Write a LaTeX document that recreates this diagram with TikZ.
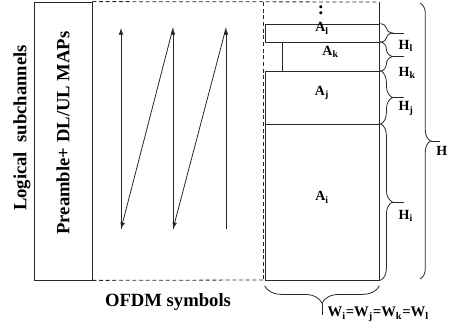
\documentclass[tikz,border=0pt]{standalone}
\usepackage{fontspec}
\setmainfont{Liberation Serif}
\usepackage{tikz}
\usetikzlibrary{arrows.meta,positioning,fit,calc,decorations.pathreplacing}
\definecolor{linegray}{RGB}{40,40,40}
\tikzset{
  pbox/.style ={rectangle, draw=linegray, line width=0.6pt, inner sep=0pt},
  cell/.style ={rectangle, draw=linegray, line width=0.6pt, inner sep=0pt,
                font=\bfseries\fontsize{10.5}{12}\selectfont},
  lbl/.style  ={inner sep=1pt, font=\bfseries\fontsize{14}{16}\selectfont},
  hlbl/.style ={inner sep=1pt, font=\bfseries\fontsize{10.5}{12}\selectfont},
  wlbl/.style ={inner sep=1pt, font=\bfseries\fontsize{11}{12}\selectfont},
  dline/.style={draw=linegray, line width=0.6pt, dash pattern=on 3pt off 2pt},
  solid/.style={draw=linegray, line width=0.6pt},
  flow/.style ={-{Latex[length=5pt,width=3.5pt]}, draw=linegray, line width=0.6pt},
  brc/.style  ={draw=linegray, line width=0.6pt, decorate,
                decoration={brace, amplitude=9pt, raise=0.75pt}},
  tick/.style ={draw=linegray, line width=0.6pt}
}
\begin{document}
\begin{tikzpicture}[x=0.75pt, y=-0.75pt]
\useasboundingbox (0,0) rectangle (449,331);
\node[pbox, fit={(34,2) (92,280)}] (pre) {};
\node[lbl, rotate=90] (pretxt) at (63,133) {Preamble+ DL/UL MAPs};
\node[lbl, rotate=90] (logic) at (22,128) {Logical~ subchannels};
\node[lbl] (ofdm) at (168,302) {OFDM symbols};

\coordinate (cTL) at (263,2);
\coordinate (cBL) at (263,280);
\coordinate (cTR) at (379,2);
\coordinate (cBR) at (379,280);
\draw[dline] (pre.north east) -- (cTR);
\draw[dline] (pre.south east) -- (cBL);
\draw[dline] (cTL) -- (cBL);
\draw[solid] (cTR) -- (cBR);

\node[cell, fit={(265,24) (379,42)}] (Al) {A\textsubscript{l}};
\node[cell, fit={(282,42) (379,71)}] (Ak) {A\textsubscript{k}};
\node[cell, fit={(265,71) (379,124)}] (Aj) {A\textsubscript{j}};
\node[cell, fit={(265,124) (379,280)}] (Ai) {A\textsubscript{i}};
\node[lbl] (dots) at (321,10) {:};

\coordinate (b1) at (121,229);
\coordinate (t1) at (121,28);
\coordinate (b2) at (173,229);
\coordinate (t2) at (173,28);
\coordinate (b3) at (226,229);
\coordinate (t3) at (226,28);
\draw[flow] (b1) -- (t1);
\draw[flow] (t2) -- (b1);
\draw[flow] (b2) -- (t2);
\draw[flow] (t3) -- (b2);
\draw[flow] (b3) -- (t3);

\draw[brc] (Al.north east) -- (Al.south east);
\coordinate (tl) at ($(Al.north east)!0.5!(Al.south east)+(9.75pt,0)$);
\draw[tick] (tl) -- ++(9pt,0);
\node[hlbl, below right=4pt and 3.5pt of tl] (hl) {H\textsubscript{l}};

\draw[brc] (Ak.north east) -- (Ak.south east);
\coordinate (tk) at ($(Ak.north east)!0.5!(Ak.south east)+(9.75pt,0)$);
\draw[tick] (tk) -- ++(9pt,0);
\node[hlbl, below right=7pt and 3.5pt of tk] (hk) {H\textsubscript{k}};

\draw[brc] (Aj.north east) -- (Aj.south east);
\coordinate (tj) at ($(Aj.north east)!0.5!(Aj.south east)+(9.75pt,0)$);
\draw[tick] (tj) -- ++(9pt,0);
\node[hlbl, below right=2pt and 3.5pt of tj] (hj) {H\textsubscript{j}};

\draw[brc] (Ai.north east) -- (Ai.south east);
\coordinate (ti) at ($(Ai.north east)!0.5!(Ai.south east)+(9.75pt,0)$);
\draw[tick] (ti) -- ++(9pt,0);
\node[hlbl, below right=5pt and 3.5pt of ti] (hi) {H\textsubscript{i}};

\coordinate (hT) at (420,3);
\coordinate (hB) at (420,279);
\draw[brc, decoration={amplitude=8pt, raise=0pt}] (hT) -- (hB);
\coordinate (th) at ($(hT)!0.5!(hB)+(8pt,0)$);
\draw[tick] (th) -- ++(7pt,0);
\node[hlbl, below right=3pt and 3pt of th] (hh) {H};

\draw[brc, decoration={amplitude=13pt, raise=4pt}] (Ai.south east) -- (Ai.south west);
\coordinate (tw) at ($(Ai.south east)!0.5!(Ai.south west)+(0,-17pt)$);
\draw[tick] (tw) -- ++(0,-9pt);
\node[wlbl, below right=2pt and 3pt of tw] (wl)
  {W\textsubscript{i}=W\textsubscript{j}=W\textsubscript{k}=W\textsubscript{l}};
\end{tikzpicture}
\end{document}
